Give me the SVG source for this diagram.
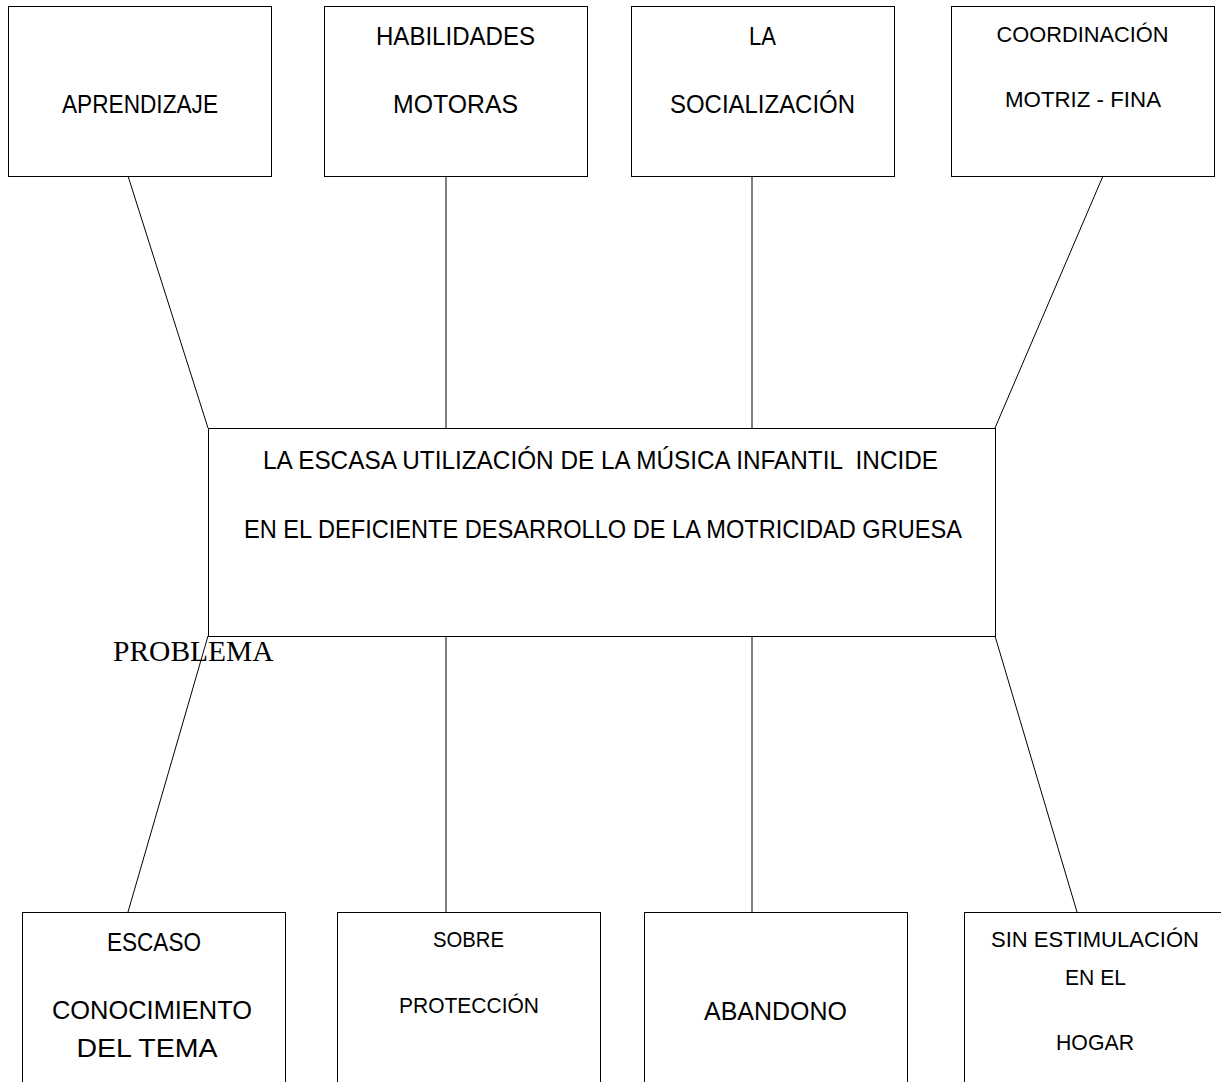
<svg xmlns="http://www.w3.org/2000/svg" width="1221" height="1082" viewBox="0 0 1221 1082">
<style>
.box{fill:#fff;stroke:#000;stroke-width:1}
.ln{stroke:#000;stroke-width:1;fill:none}
.t{font-family:"Liberation Sans",Arial,sans-serif;font-size:25px;fill:#000;text-anchor:middle}
.s{font-family:"Liberation Sans",Arial,sans-serif;font-size:22px;fill:#000;text-anchor:middle}
.p{font-family:"Liberation Serif","Times New Roman",serif;font-size:29.5px;fill:#000}
</style>
<rect width="1221" height="1082" fill="#fff"/>
<g id="connectors">
<line class="ln" x1="128" y1="176" x2="208" y2="428"/>
<line class="ln" x1="446" y1="176" x2="446" y2="428"/>
<line class="ln" x1="752" y1="176" x2="752" y2="428"/>
<line class="ln" x1="1103" y1="176" x2="995" y2="428"/>
<line class="ln" x1="208" y1="636" x2="128" y2="912"/>
<line class="ln" x1="446" y1="636" x2="446" y2="912"/>
<line class="ln" x1="752" y1="636" x2="752" y2="912"/>
<line class="ln" x1="995" y1="636" x2="1077" y2="912"/>
</g>
<g id="n-aprendizaje"><rect class="box" x="8.5" y="6.5" width="263" height="170"/><text class="t" x="140" y="113" textLength="156" lengthAdjust="spacingAndGlyphs">APRENDIZAJE</text></g>
<g id="n-habilidades"><rect class="box" x="324.5" y="6.5" width="263" height="170"/><text class="t" x="455.5" y="45" textLength="159" lengthAdjust="spacingAndGlyphs">HABILIDADES</text><text class="t" x="455.5" y="113" textLength="125" lengthAdjust="spacingAndGlyphs">MOTORAS</text></g>
<g id="n-socializacion"><rect class="box" x="631.5" y="6.5" width="263" height="170"/><text class="t" x="762.5" y="45" textLength="27" lengthAdjust="spacingAndGlyphs">LA</text><text class="t" x="762.5" y="113" textLength="185" lengthAdjust="spacingAndGlyphs">SOCIALIZACIÓN</text></g>
<g id="n-coordinacion"><rect class="box" x="951.5" y="6.5" width="263" height="170"/><text class="s" x="1082.5" y="42" textLength="172" lengthAdjust="spacingAndGlyphs">COORDINACIÓN</text><text class="s" x="1083" y="107" textLength="156" lengthAdjust="spacingAndGlyphs">MOTRIZ - FINA</text></g>
<g id="n-problema"><rect class="box" x="208.5" y="428.5" width="787" height="208"/><text class="t" x="600.5" y="469" textLength="675" lengthAdjust="spacingAndGlyphs" xml:space="preserve">LA ESCASA UTILIZACIÓN DE LA MÚSICA INFANTIL  INCIDE</text><text class="t" x="603" y="538" textLength="718" lengthAdjust="spacingAndGlyphs">EN EL DEFICIENTE DESARROLLO DE LA MOTRICIDAD GRUESA</text></g>
<g id="label-problema"><text class="p" x="113" y="661">PROBLEMA</text></g>
<g id="n-escaso"><rect class="box" x="22.5" y="912.5" width="263" height="180"/><text class="t" x="154" y="951" textLength="94" lengthAdjust="spacingAndGlyphs">ESCASO</text><text class="t" x="152" y="1019" textLength="200" lengthAdjust="spacingAndGlyphs">CONOCIMIENTO</text><text class="t" x="147" y="1057" textLength="141" lengthAdjust="spacingAndGlyphs">DEL TEMA</text></g>
<g id="n-sobre"><rect class="box" x="337.5" y="912.5" width="263" height="180"/><text class="s" x="468.5" y="947" textLength="71" lengthAdjust="spacingAndGlyphs">SOBRE</text><text class="s" x="469" y="1013" textLength="140" lengthAdjust="spacingAndGlyphs">PROTECCIÓN</text></g>
<g id="n-abandono"><rect class="box" x="644.5" y="912.5" width="263" height="180"/><text class="t" x="775.5" y="1020" textLength="143" lengthAdjust="spacingAndGlyphs">ABANDONO</text></g>
<g id="n-hogar"><rect class="box" x="964.5" y="912.5" width="263" height="180"/><text class="s" x="1095" y="947" textLength="208" lengthAdjust="spacingAndGlyphs">SIN ESTIMULACIÓN</text><text class="s" x="1095.5" y="985" textLength="61" lengthAdjust="spacingAndGlyphs">EN EL</text><text class="s" x="1095" y="1050" textLength="78" lengthAdjust="spacingAndGlyphs">HOGAR</text></g>
</svg>
